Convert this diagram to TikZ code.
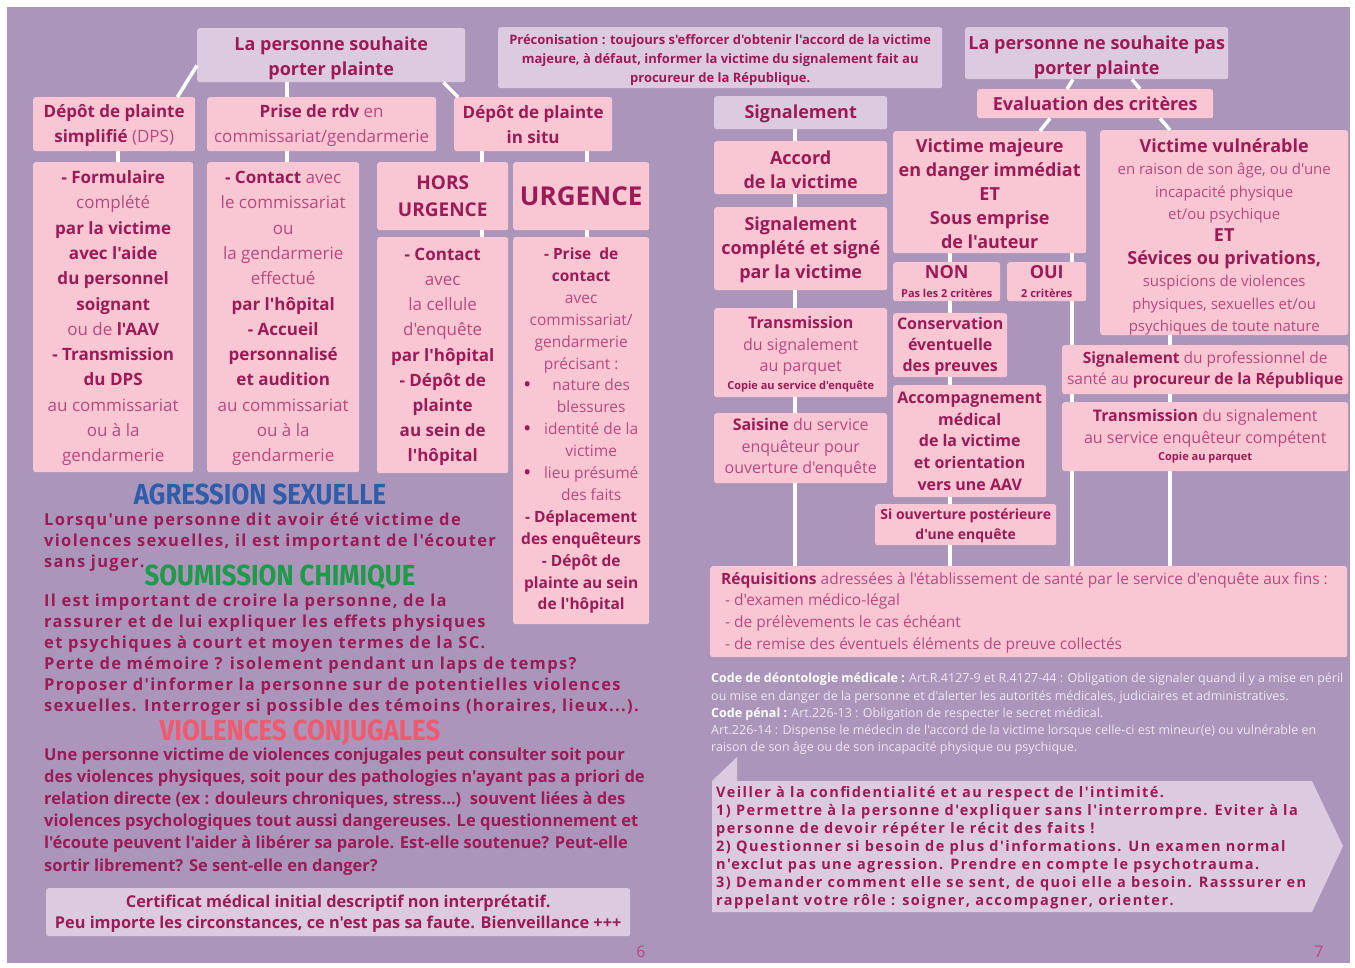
\documentclass[tikz,border=0pt]{standalone}
\usepackage{fontspec}
\newfontfamily\osans{Open Sans}
\newfontfamily\spacedA[LetterSpace=8]{Open Sans}
\newfontfamily\spacedB[LetterSpace=10]{Open Sans}
\newfontfamily\headfont[FakeStretch=0.89]{Fira Sans}
\usetikzlibrary{calc}
\definecolor{bg}{HTML}{AB95BB}
\definecolor{pk}{HTML}{F8C7D3}
\definecolor{lv}{HTML}{DCCBE0}
\definecolor{dk}{HTML}{9C1A57}
\definecolor{lt}{HTML}{BA4880}
\definecolor{hblue}{HTML}{2F5DAA}
\definecolor{hgreen}{HTML}{1E9A48}
\definecolor{hred}{HTML}{F05A6E}
\definecolor{legal}{HTML}{EEE6F2}
\newcommand\bd[1]{{\bfseries\color{dk}#1}}
\newcommand\fs[2]{\fontsize{#1}{#2}\selectfont}
\newcommand\bl[1]{\makebox[130pt]{\makebox[20pt][l]{\hspace{8pt}\bd{\fs{17}{20}\textbullet}}\makebox[110pt]{#1}}}
\newcommand\bc[1]{\makebox[130pt]{\makebox[20pt]{}\makebox[110pt]{#1}}}
\newcommand\up[1]{\rule{0pt}{#1pt}}
\tikzset{
  pbox/.style={fill=pk, rounded corners=2.5pt, align=center, inner sep=0pt, text=lt, anchor=north west},
  lbox/.style={pbox, fill=lv},
  conn/.style={draw=white, line width=3.5pt},
  para/.style={anchor=base west, inner sep=0pt, text=dk, font=\spacedA\bfseries\fs{16.5}{21}},
  cpara/.style={anchor=base west, inner sep=0pt, text=dk, font=\bfseries\fs{16.5}{22}},
  callt/.style={anchor=base west, inner sep=0pt, text=dk, font=\spacedB\bfseries\fs{14.5}{18}},
  legalt/.style={anchor=base west, inner sep=0pt, text=legal, font=\fs{12.5}{17}},
  head/.style={anchor=base, inner sep=0pt, font=\headfont\bfseries\fs{29}{29}},
}
\begin{document}
\osans
\begin{tikzpicture}[x=1pt,y=-1pt]
\useasboundingbox (0,0) rectangle (1355,967);
\fill[white] (0,0) rectangle (1355,967);
\fill[bg] (7,7) rectangle (1350,963);

% x positions of connectors
\coordinate (x118) at (118,0);
\coordinate (x287) at (287,0);
\coordinate (x482) at (482,0);
\coordinate (x587) at (587,0);
\coordinate (x795) at (795,0);
\coordinate (x950) at (950,0);
\coordinate (x1072) at (1072,0);
\coordinate (x1170) at (1170,0);

% ---------------- left page boxes ----------------
\node[lbox, minimum width=268pt, minimum height=54pt, font=\fs{18}{25}] (top) at (197,28)
  {\up{19.5}\bd{La personne souhaite}\\\bd{porter plainte}};
\node[pbox, minimum width=162pt, minimum height=54pt, font=\fs{17}{25}] (dps) at (33,97)
  {\up{15}\bd{Dépôt de plainte}\\\bd{simplifié} (DPS)};
\node[pbox, minimum width=229pt, minimum height=54pt, font=\fs{17}{25}] (rdv) at (207,97)
  {\up{15}\bd{Prise de rdv} en\\commissariat/gendarmerie};
\node[pbox, minimum width=158pt, minimum height=54pt, font=\fs{17}{25}] (insitu) at (454,97)
  {\bd{Dépôt de plainte}\\\bd{in situ}};
\node[pbox, minimum width=160pt, minimum height=310pt, font=\fs{17}{25.3}] (form) at (33,162)
  {\up{15}\bd{- Formulaire}\\complété\\\bd{par la victime}\\\bd{avec l'aide}\\\bd{du personnel}\\\bd{soignant}\\ou de \bd{l'AAV}\\\bd{- Transmission}\\\bd{du DPS}\\au commissariat\\ou à la\\gendarmerie};
\node[pbox, minimum width=152pt, minimum height=310pt, font=\fs{17}{25.3}] (contact) at (207,162)
  {\up{15}\bd{- Contact} avec\\le commissariat\\ou\\la gendarmerie\\effectué\\\bd{par l'hôpital}\\\bd{- Accueil}\\\bd{personnalisé}\\\bd{et audition}\\au commissariat\\ou à la\\gendarmerie};
\node[pbox, minimum width=131pt, minimum height=68pt, font=\fs{19}{27}] (hors) at (377,162)
  {\bd{HORS}\\\bd{URGENCE}};
\node[pbox, minimum width=136pt, minimum height=68pt, font=\fs{26}{30}] (urg) at (513,162)
  {\bd{URGENCE}};
\node[pbox, minimum width=131pt, minimum height=236pt, font=\fs{17}{25.2}] (cell) at (377,237)
  {\up{16}\bd{- Contact}\\avec\\la cellule\\d'enquête\\\bd{par l'hôpital}\\\bd{- Dépôt de}\\\bd{plainte}\\\bd{au sein de}\\\bd{l'hôpital}};
\node[pbox, minimum width=136pt, minimum height=387pt, font=\fs{15.5}{21.9}] (prise) at (513,237)
  {\bd{- Prise\ \ de}\\\bd{contact}\\avec\\commissariat/\\gendarmerie\\précisant :\\\bl{nature des}\\\bc{blessures}\\\bl{identité de la}\\\bc{victime}\\\bl{lieu présumé}\\\bc{des faits}\\\bd{- Déplacement}\\\bd{des enquêteurs}\\\bd{- Dépôt de}\\\bd{plainte au sein}\\\bd{de l'hôpital}};

% left connectors
\draw[conn] ($(top.south west)+(0,-17)$) -- ($(dps.north east)+(-18,0)$);
\draw[conn] (top.south -| x287) -- (rdv.north -| x287);
\draw[conn] ($(top.south east)+(-22,0)$) -- ($(insitu.north west)+(4,0)$);
\draw[conn] (dps.south -| x118) -- (form.north -| x118);
\draw[conn] (rdv.south -| x287) -- (contact.north -| x287);
\draw[conn] (insitu.south -| x482) -- (hors.north -| x482);
\draw[conn] (insitu.south -| x587) -- (urg.north -| x587);
\draw[conn] (hors.south -| x482) -- (cell.north -| x482);
\draw[conn] (urg.south -| x587) -- (prise.north -| x587);

% left texts
\node[head, text=hblue] (hagr) at (260,504) {AGRESSION SEXUELLE};
\node[para] (a1) at (44,525) {Lorsqu'une personne dit avoir été victime de};
\node[para] (a2) at (44,546) {violences sexuelles, il est important de l'écouter};
\node[para] (a3) at (44,567) {sans juger.};
\node[head, text=hgreen] (hsc) at (280,585) {SOUMISSION CHIMIQUE};
\node[para] (s1) at (44,606) {Il est important de croire la personne, de la};
\node[para] (s2) at (44,627) {rassurer et de lui expliquer les effets physiques};
\node[para] (s3) at (44,648) {et psychiques à court et moyen termes de la SC.};
\node[para] (s4) at (44,669) {Perte de mémoire ? isolement pendant un laps de temps?};
\node[para] (s5) at (44,690) {Proposer d'informer la personne sur de potentielles violences};
\node[para] (s6) at (44,711) {sexuelles. Interroger si possible des témoins (horaires, lieux...).};
\node[head, text=hred] (hvc) at (300,740) {VIOLENCES CONJUGALES};
\node[cpara] (v1) at (44,760) {Une personne victime de violences conjugales peut consulter soit pour};
\node[cpara] (v2) at (44,782) {des violences physiques, soit pour des pathologies n'ayant pas a priori de};
\node[cpara] (v3) at (44,804) {relation directe (ex : douleurs chroniques, stress...)\ \ souvent liées à des};
\node[cpara] (v4) at (44,826) {violences psychologiques tout aussi dangereuses. Le questionnement et};
\node[cpara] (v5) at (44,848) {l'écoute peuvent l'aider à libérer sa parole. Est-elle soutenue? Peut-elle};
\node[cpara] (v6) at (44,871) {sortir librement? Se sent-elle en danger?};
\node[lbox, minimum width=584pt, minimum height=48pt, font=\fs{16.3}{21}] (cert) at (46,888)
  {\up{15}\bd{Certificat médical initial descriptif non interprétatif.}\\\bd{Peu importe les circonstances, ce n'est pas sa faute. Bienveillance +++}};
\node[anchor=base, inner sep=0pt, text=lt, font=\fs{16}{16}] (p6) at (641,957) {6};

% ---------------- right page boxes ----------------
\node[lbox, minimum width=444pt, minimum height=61pt, font=\fs{13}{19}] (preco) at (498,27)
  {\up{14}\bd{Préconisation : toujours s'efforcer d'obtenir l'accord de la victime}\\\bd{majeure, à défaut, informer la victime du signalement fait au}\\\bd{procureur de la République.}};
\node[lbox, minimum width=263pt, minimum height=52pt, font=\fs{18}{25}] (nsp) at (965,27)
  {\up{21.5}\bd{La personne ne souhaite pas}\\\bd{porter plainte}};
\node[pbox, minimum width=236pt, minimum height=29pt, font=\fs{18}{24}] (eval) at (977,89)
  {\bd{Evaluation des critères}};
\node[lbox, minimum width=173pt, minimum height=33pt, font=\fs{18}{24}] (sig) at (714,96)
  {\up{16}\bd{Signalement}};
\node[pbox, minimum width=173pt, minimum height=53pt, font=\fs{18}{24}] (acc) at (714,141)
  {\up{17}\bd{Accord}\\\bd{de la victime}};
\node[pbox, minimum width=173pt, minimum height=83pt, font=\fs{18}{24}] (sigc) at (714,207)
  {\up{15}\bd{Signalement}\\\bd{complété et signé}\\\bd{par la victime}};
\node[pbox, minimum width=173pt, minimum height=89pt, font=\fs{16}{21.5}] (trans) at (714,308)
  {\up{15}\bd{Transmission}\\du signalement\\au parquet\\[-4pt]{\fs{11}{13}\bd{Copie au service d'enquête}}};
\node[pbox, minimum width=173pt, minimum height=70pt, font=\fs{16}{21.5}] (sais) at (714,413)
  {\bd{Saisine} du service\\enquêteur pour\\ouverture d'enquête};
\node[pbox, minimum width=193pt, minimum height=122pt, font=\fs{18}{24}] (vmaj) at (893,131)
  {\up{16}\bd{Victime majeure}\\\bd{en danger immédiat}\\\bd{ET}\\\bd{Sous emprise}\\\bd{de l'auteur}};
\node[pbox, minimum width=107pt, minimum height=39pt, font=\fs{11}{19}] (non) at (893,262)
  {{\fs{18}{19}\bd{NON}}\\\bd{Pas les 2 critères}};
\node[pbox, minimum width=79pt, minimum height=39pt, font=\fs{11}{19}] (oui) at (1007,262)
  {{\fs{18}{19}\bd{OUI}}\\\bd{2 critères}};
\node[pbox, minimum width=114pt, minimum height=64pt, font=\fs{16}{21}] (cons) at (893,313)
  {\up{15}\bd{Conservation}\\\bd{éventuelle}\\\bd{des preuves}};
\node[pbox, minimum width=153pt, minimum height=112pt, font=\fs{16}{21.6}] (accm) at (893,385)
  {\bd{Accompagnement}\\\bd{médical}\\\bd{de la victime}\\\bd{et orientation}\\\bd{vers une AAV}};
\node[pbox, minimum width=181pt, minimum height=41pt, font=\fs{14}{20}] (siouv) at (875,504)
  {\up{12}\bd{Si ouverture postérieure}\\\bd{d'une enquête}};
\node[pbox, minimum width=248pt, minimum height=204pt, font=\fs{15}{22.4}] (vuln) at (1100,130)
  {{\fs{18}{22}\bd{Victime vulnérable}}\up{22}\\en raison de son âge, ou d'une\\incapacité physique\\et/ou psychique\\{\fs{18}{22}\bd{ET}}\\{\fs{18}{22}\bd{Sévices ou privations,}}\\suspicions de violences\\physiques, sexuelles et/ou\\psychiques de toute nature};
\node[pbox, minimum width=286pt, minimum height=49pt, font=\fs{15.5}{21}] (sigpro) at (1062,345)
  {\bd{Signalement} du professionnel de\\santé au \bd{procureur de la République}};
\node[pbox, minimum width=286pt, minimum height=69pt, font=\fs{16}{21.5}] (trans2) at (1062,402)
  {\bd{Transmission} du signalement\\au service enquêteur compétent\\[-4pt]{\fs{11}{13}\bd{Copie au parquet}}};
\node[pbox, minimum width=637pt, minimum height=91pt] (req) at (710,566) {};
\node[anchor=north west, inner sep=0pt, align=left, text=lt, font=\fs{15.5}{21.7}] (reqt) at (721,572)
  {\bd{Réquisitions} adressées à l'établissement de santé par le service d'enquête aux fins :\\\ - d'examen médico-légal\\\ - de prélèvements le cas échéant\\\ - de remise des éventuels éléments de preuve collectés};

% right connectors
\draw[conn] ($(nsp.south west)+(108,0)$) -- ($(eval.north west)+(90,0)$);
\draw[conn] ($(nsp.south west)+(167,0)$) -- ($(eval.north west)+(163,0)$);
\draw[conn] ($(eval.south west)+(73,0)$) -- ($(vmaj.north west)+(147,0)$);
\draw[conn] ($(eval.south west)+(183,0)$) -- ($(vuln.north west)+(70,0)$);
\draw[conn] (sig.south -| x795) -- (acc.north -| x795);
\draw[conn] (acc.south -| x795) -- (sigc.north -| x795);
\draw[conn] (sigc.south -| x795) -- (trans.north -| x795);
\draw[conn] (trans.south -| x795) -- (sais.north -| x795);
\draw[conn] (sais.south -| x795) -- (req.north -| x795);
\draw[conn] (vmaj.south -| x950) -- (non.north -| x950);
\draw[conn] (non.south -| x950) -- (cons.north -| x950);
\draw[conn] (cons.south -| x950) -- (accm.north -| x950);
\draw[conn] (accm.south -| x950) -- (siouv.north -| x950);
\draw[conn] (siouv.south -| x950) -- (req.north -| x950);
\draw[conn] (vmaj.south -| x1072) -- (oui.north -| x1072);
\draw[conn] (oui.south -| x1072) -- (sigpro.north -| x1072);
\draw[conn] (sigpro.south -| x1072) -- (trans2.north -| x1072);
\draw[conn] (trans2.south -| x1072) -- (req.north -| x1072);
\draw[conn] (vuln.south -| x1170) -- (sigpro.north -| x1170);
\draw[conn] (sigpro.south -| x1170) -- (trans2.north -| x1170);
\draw[conn] (trans2.south -| x1170) -- (req.north -| x1170);

% legal text
\node[legalt] (l1) at (711,682) {{\bfseries\color{white}Code de déontologie médicale :} Art.R.4127-9 et R.4127-44 : Obligation de signaler quand il y a mise en péril};
\node[legalt] (l2) at (711,700) {ou mise en danger de la personne et d'alerter les autorités médicales, judiciaires et administratives.};
\node[legalt] (l3) at (711,717) {{\bfseries\color{white}Code pénal :} Art.226-13 : Obligation de respecter le secret médical.};
\node[legalt] (l4) at (711,734) {Art.226-14 : Dispense le médecin de l'accord de la victime lorsque celle-ci est mineur(e) ou vulnérable en};
\node[legalt] (l5) at (711,751) {raison de son âge ou de son incapacité physique ou psychique.};

% callout
\fill[lv] (712,781) -- (737,757) -- (737,781) -- (1312,781) -- (1343,846) -- (1312,912) -- (712,912) -- cycle;
\node[callt] (c1) at (716,797) {Veiller à la confidentialité et au respect de l'intimité.};
\node[callt] (c2) at (716,815) {1) Permettre à la personne d'expliquer sans l'interrompre. Eviter à la};
\node[callt] (c3) at (716,833) {personne de devoir répéter le récit des faits !};
\node[callt] (c4) at (716,851) {2) Questionner si besoin de plus d'informations. Un examen normal};
\node[callt] (c5) at (716,869) {n'exclut pas une agression. Prendre en compte le psychotrauma.};
\node[callt] (c6) at (716,887) {3) Demander comment elle se sent, de quoi elle a besoin. Rasssurer en};
\node[callt] (c7) at (716,905) {rappelant votre rôle : soigner, accompagner, orienter.};
\node[anchor=base, inner sep=0pt, text=lt, font=\fs{16}{16}] (p7) at (1319,957) {7};
\end{tikzpicture}
\end{document}
